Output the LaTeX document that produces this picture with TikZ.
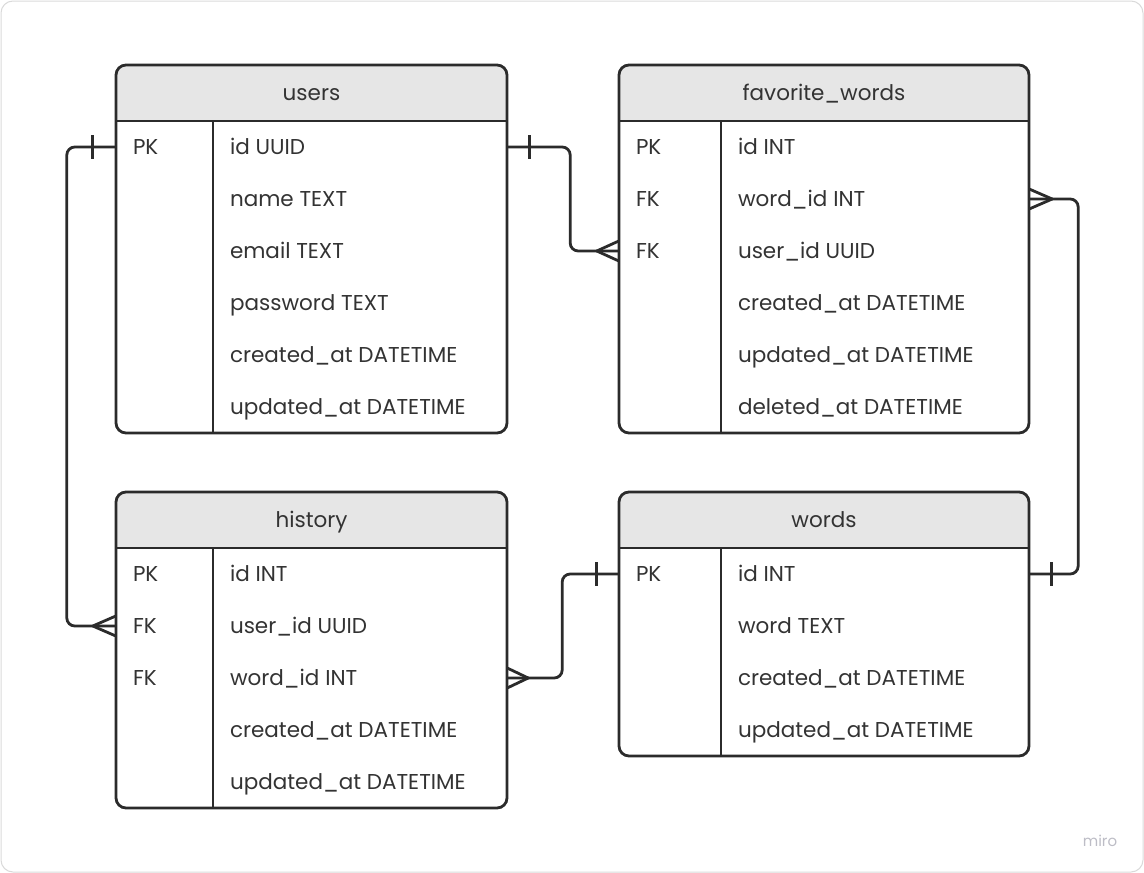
\documentclass[tikz,border=0pt]{standalone}
\usepackage{fontspec}
\setmainfont{Poppins}
\usepackage{xcolor}
\usetikzlibrary{calc,positioning}
\definecolor{ink}{HTML}{2B2B2B}
\definecolor{headgray}{HTML}{E6E6E6}
\definecolor{framegray}{HTML}{DADADA}
\definecolor{txtgray}{HTML}{333333}
\definecolor{brandgray}{HTML}{BDBDC6}
\tikzset{
  frame/.style={draw=framegray, line width=1pt, rounded corners=12pt},
  head/.style={fill=headgray},
  tbl/.style={draw=ink, line width=2.8pt, rounded corners=10pt},
  tblline/.style={draw=ink, line width=2.8pt},
  divline/.style={draw=ink, line width=2.4pt},
  rowbox/.style={inner sep=0pt, minimum height=52pt},
  cell/.style={inner sep=0pt, anchor=west, text height=15pt, text depth=0pt,
    font=\fontsize{21.5}{26}\selectfont, text=txtgray},
  titletxt/.style={inner sep=0pt, text height=15pt, text depth=0pt,
    font=\fontsize{21.5}{26}\selectfont, text=txtgray},
  rel/.style={draw=ink, line width=2.8pt, rounded corners=8pt},
  relmark/.style={draw=ink, line width=2.8pt},
  brand/.style={font=\fontsize{15}{18}\selectfont, text=brandgray}
}
% name, left, right, top, divider, rows
\newcommand{\erdbox}[6]{%
  \pgfmathsetmacro{\erdbot}{#4+56+52*#6}
  \begin{scope}
    \clip[rounded corners=10pt] (#2,#4) rectangle (#3,\erdbot);
    \fill[head] (#2,#4) rectangle (#3,#4+56);
  \end{scope}
  \draw[tbl] (#2,#4) rectangle (#3,\erdbot);
  \draw[tblline] (#2,#4+56) -- (#3,#4+56);
  \draw[divline] (#5,#4+56) -- (#5,\erdbot);
}
\begin{document}
\begin{tikzpicture}[x=1pt,y=-1pt]
  \useasboundingbox (0,0) rectangle (1144,873);
  \draw[frame] (1,1) rectangle (1143,872);

  % tables
  \erdbox{users}{116}{507}{65}{213}{6}
  \node[titletxt] (users-title) at (311.5,93) {users};
  \foreach \k/\f [count=\i] in {PK/id UUID, {}/name TEXT, {}/email TEXT,
      {}/password TEXT, {}/created\_at DATETIME, {}/updated\_at DATETIME} {
    \node[rowbox, minimum width=391pt] (users-r\i) at (311.5,{95+52*\i}) {};
    \node[cell, right=17pt of users-r\i.west] (users-k\i) {\k};
    \node[cell, right=114pt of users-r\i.west] (users-f\i) {\f};
  }

  \erdbox{fav}{619}{1029}{65}{721}{6}
  \node[titletxt] (fav-title) at (824,93) {favorite\_words};
  \foreach \k/\f [count=\i] in {PK/id INT, FK/word\_id INT, FK/user\_id UUID,
      {}/created\_at DATETIME, {}/updated\_at DATETIME, {}/deleted\_at DATETIME} {
    \node[rowbox, minimum width=410pt] (fav-r\i) at (824,{95+52*\i}) {};
    \node[cell, right=17pt of fav-r\i.west] (fav-k\i) {\k};
    \node[cell, right=119pt of fav-r\i.west] (fav-f\i) {\f};
  }

  \erdbox{history}{116}{507}{492}{213}{5}
  \node[titletxt] (history-title) at (311.5,520) {history};
  \foreach \k/\f [count=\i] in {PK/id INT, FK/user\_id UUID, FK/word\_id INT,
      {}/created\_at DATETIME, {}/updated\_at DATETIME} {
    \node[rowbox, minimum width=391pt] (history-r\i) at (311.5,{522+52*\i}) {};
    \node[cell, right=17pt of history-r\i.west] (history-k\i) {\k};
    \node[cell, right=114pt of history-r\i.west] (history-f\i) {\f};
  }

  \erdbox{words}{619}{1029}{492}{721}{4}
  \node[titletxt] (words-title) at (824,520) {words};
  \foreach \k/\f [count=\i] in {PK/id INT, {}/word TEXT,
      {}/created\_at DATETIME, {}/updated\_at DATETIME} {
    \node[rowbox, minimum width=410pt] (words-r\i) at (824,{522+52*\i}) {};
    \node[cell, right=17pt of words-r\i.west] (words-k\i) {\k};
    \node[cell, right=119pt of words-r\i.west] (words-f\i) {\f};
  }

  % relations
  \draw[rel] (users-r1.west) -- ++(-49,0) |- (history-r2.west);
  \draw[relmark] ([xshift=-23pt]users-r1.west) ++(0,-12) -- ++(0,24);
  \draw[relmark] ([xshift=-23pt]history-r2.west) -- ++(23,-10)
    ([xshift=-23pt]history-r2.west) -- ++(23,10);

  \draw[rel] (users-r1.east) -- ++(63,0) |- (fav-r3.west);
  \draw[relmark] ([xshift=22pt]users-r1.east) ++(0,-12) -- ++(0,24);
  \draw[relmark] ([xshift=-22pt]fav-r3.west) -- ++(22,-10)
    ([xshift=-22pt]fav-r3.west) -- ++(22,10);

  \draw[rel] (fav-r2.east) -- ++(49,0) |- (words-r1.east);
  \draw[relmark] ([xshift=23pt]fav-r2.east) -- ++(-23,-10)
    ([xshift=23pt]fav-r2.east) -- ++(-23,10);
  \draw[relmark] ([xshift=22pt]words-r1.east) ++(0,-12) -- ++(0,24);

  \draw[rel] (history-r3.east) -- ++(55,0) |- (words-r1.west);
  \draw[relmark] ([xshift=21pt]history-r3.east) -- ++(-21,-10)
    ([xshift=21pt]history-r3.east) -- ++(-21,10);
  \draw[relmark] ([xshift=-22pt]words-r1.west) ++(0,-12) -- ++(0,24);

  \node[brand] (logo) at (1100,841) {miro};
\end{tikzpicture}
\end{document}
